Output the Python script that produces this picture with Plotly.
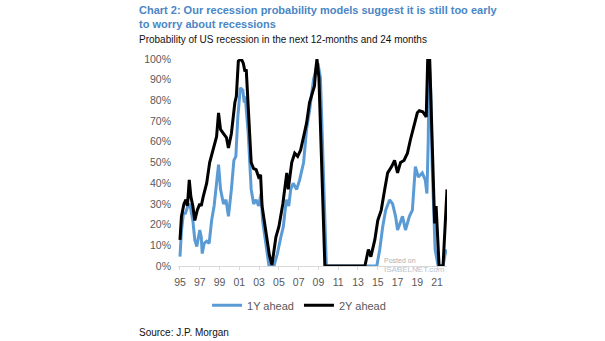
import plotly.graph_objects as go

# 1Y ahead (decimal year, probability %)
t_1y = [1995.0, 1995.15, 1995.35, 1995.55, 1995.8, 1996.0, 1996.3, 1996.5, 1996.7, 1997.0,
        1997.15, 1997.25, 1997.45, 1997.7, 1997.95, 1998.2, 1998.45, 1998.7, 1998.9, 1999.1,
        1999.4, 1999.65, 1999.9, 2000.2, 2000.45, 2000.65, 2000.85, 2001.1, 2001.35, 2001.5,
        2001.6, 2001.9, 2002.2, 2002.45, 2002.7, 2002.95, 2003.2, 2003.35, 2003.6, 2003.8,
        2004.0, 2004.5, 2004.85, 2005.2, 2005.45, 2005.75, 2006.0, 2006.2, 2006.45, 2006.8,
        2007.1, 2007.5, 2007.8, 2008.1, 2008.5, 2008.75, 2008.95, 2009.2, 2009.45, 2009.8,
        2014.9, 2015.2, 2015.5, 2015.8, 2016.2, 2016.5, 2016.8, 2017.0, 2017.25, 2017.5,
        2017.8, 2018.2, 2018.5, 2018.8, 2019.1, 2019.5, 2019.8, 2019.97, 2020.1, 2020.2,
        2020.35, 2020.5, 2020.8, 2021.1, 2021.6, 2021.9]
v_1y = [4.5, 17, 25.5, 25.5, 29, 30, 22, 12.6, 9.4, 17.4,
        14, 6, 11, 12, 11, 22, 29, 41.6, 49, 37,
        30, 32, 24, 37, 51, 53, 72, 86, 85, 79,
        82, 64, 37, 30, 32, 29, 35, 22, 14, 6,
        0, 0, 6, 14, 19, 32, 29, 37, 40, 37,
        41.6, 50, 66, 75, 90, 95, 98, 91, 56, 0,
        0, 8, 19, 27, 32, 30, 24, 17.4, 20.6, 24,
        17.4, 24, 27, 48, 43, 45, 41.6, 35, 60, 100,
        85, 48, 8, 0, 0, 8]

# 2Y ahead
t_2y = [1995.0, 1995.15, 1995.4, 1995.6, 1995.75, 1995.94, 1996.1, 1996.3, 1996.5, 1996.75,
        1997.0, 1997.15, 1997.35, 1997.7, 1998.0, 1998.35, 1998.7, 1998.9, 1999.1, 1999.4,
        1999.7, 1999.9, 2000.2, 2000.55, 2000.7, 2000.9, 2001.2, 2001.4, 2001.57, 2001.7,
        2001.9, 2002.2, 2002.45, 2002.7, 2002.95, 2003.15, 2003.3, 2003.55, 2003.8, 2004.05,
        2004.3, 2004.5, 2004.7, 2005.0, 2005.2, 2005.4, 2005.8, 2005.95, 2006.3, 2006.6,
        2006.9, 2007.2, 2007.5, 2007.8, 2008.1, 2008.45, 2008.6, 2008.73, 2008.85, 2009.05,
        2009.3, 2009.65, 2013.7, 2013.9, 2014.05, 2014.3, 2014.7, 2015.0, 2015.35, 2015.7,
        2016.0, 2016.4, 2016.7, 2017.0, 2017.3, 2017.65, 2018.0, 2018.3, 2018.6, 2019.0,
        2019.2, 2019.55, 2019.9, 2020.05, 2020.25, 2020.4, 2020.6, 2020.75, 2020.9, 2021.2,
        2021.6, 2022.0]
v_2y = [12.6, 24, 30, 32, 29, 41.6, 33.5, 29, 22, 27,
        30, 29, 33.5, 40, 50, 56, 62.5, 74, 66, 64,
        62, 57, 64, 79, 82, 99, 100, 98, 94, 95,
        79, 50, 47, 46.5, 43, 44, 29, 20.6, 11, 5,
        0.5, 8, 14, 19, 25, 30, 45, 37, 50, 54.5,
        53, 56, 62.5, 69, 79, 85, 87, 95, 100, 91,
        56, 0, 0, 4.5, 8, 4.5, 12.6, 22, 27, 37,
        45, 48, 51, 45, 50, 51, 54.5, 61, 67, 74,
        75, 74.5, 72, 100, 100, 72, 37, 20.6, 29, 0,
        0, 37]

tick_years = list(range(1995, 2022, 2))
tick_text = ["95", "97", "99", "01", "03", "05", "07", "09", "11", "13", "15", "17", "19", "21"]
y_ticks = list(range(0, 101, 10))
y_text = [f"{v}%" for v in y_ticks]

FONT = "Liberation Sans, Arial, sans-serif"

fig = go.Figure()
fig.add_trace(go.Scatter(x=t_1y, y=v_1y, mode="lines", name="1Y ahead",
                         line=dict(color="#5b9bd5", width=3)))
fig.add_trace(go.Scatter(x=t_2y, y=v_2y, mode="lines", name="2Y ahead",
                         line=dict(color="#000000", width=3)))

fig.update_layout(
    width=605, height=341,
    margin=dict(l=178, r=158, t=59, b=75),
    paper_bgcolor="white", plot_bgcolor="white",
    font=dict(family=FONT, size=11, color="#595959"),
    showlegend=True,
    legend=dict(orientation="h", x=0.45, xanchor="center", y=-0.19, yanchor="middle",
                font=dict(family=FONT, size=11, color="#595959"),
                itemwidth=30, tracegroupgap=0),
    xaxis=dict(range=[1994.8, 2022.0], tickvals=tick_years, ticktext=tick_text,
               showgrid=False, zeroline=False, showline=True, linecolor="#d9d9d9",
               ticks="outside", ticklen=3, tickcolor="#d9d9d9", ticklabelstandoff=3,
               tickfont=dict(family=FONT, size=10.5, color="#595959")),
    yaxis=dict(range=[0, 100], tickvals=y_ticks, ticktext=y_text,
               showgrid=False, zeroline=False, showline=False, ticks="",
               ticklabelstandoff=6,
               tickfont=dict(family=FONT, size=10.5, color="#595959")),
)

fig.add_annotation(xref="paper", yref="paper", x=-0.1524, y=1.0, yshift=57,
                   xanchor="left", yanchor="top", align="left", showarrow=False,
                   text="<b>Chart 2: Our recession probability models suggest it is still too early<br>to worry about recessions</b>",
                   font=dict(family=FONT, size=11, color="#4a86c5"))
fig.add_annotation(xref="paper", yref="paper", x=-0.1524, y=1.0, yshift=27,
                   xanchor="left", yanchor="top", align="left", showarrow=False,
                   text="Probability of US recession in the next 12-months and 24 months",
                   font=dict(family=FONT, size=10, color="#111111"))
fig.add_annotation(xref="paper", yref="paper", x=-0.1524, y=0.0, yshift=-66,
                   xanchor="left", yanchor="middle", align="left", showarrow=False,
                   text="Source: J.P. Morgan",
                   font=dict(family=FONT, size=10, color="#111111"))
fig.add_annotation(xref="x", yref="paper", x=2015.4, y=0.0, yshift=6,
                   xanchor="left", yanchor="middle", showarrow=False,
                   text="Posted on", font=dict(family=FONT, size=7, color="#b0b0b0"))
fig.add_annotation(xref="x", yref="paper", x=2015.4, y=0.0, yshift=-3,
                   xanchor="left", yanchor="middle", showarrow=False,
                   text="ISABELNET.com", font=dict(family=FONT, size=8, color="#b8c4d0"))

fig.write_html("out.html")
